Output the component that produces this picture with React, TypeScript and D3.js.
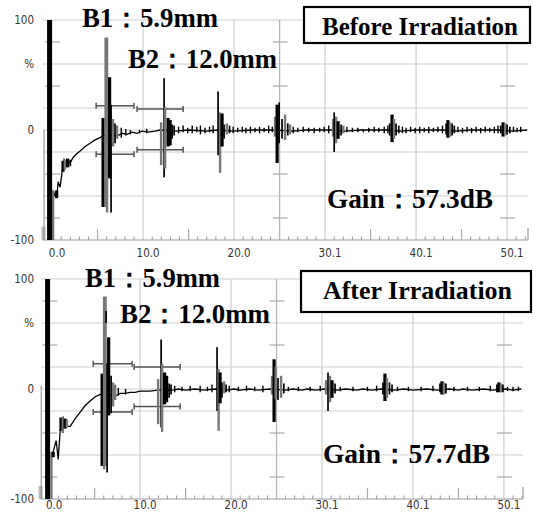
import React from "react";
import * as d3 from "d3";

// ---------- shared axis data ----------
const X_TICK_VALUES = [0, 10, 20, 30, 40, 50];
const X_TICK_LABELS = ["0.0", "10.0", "20.0", "30.1", "40.1", "50.1"];
const X_MID_TICKS = [5, 15, 35, 45];
const X_MARKER_LINES = [25];
const Y_LABEL_VALUES = [100, 60, 0, -100];
const Y_LABEL_TEXT = ["100", "%", "0", "-100"];
const Y_GRID = [100, 60, 20, 0, -20, -60];
const Y_SHORT_TICKS = [80, 40, -40, -80];

// ---------- BEFORE irradiation (top) ----------
// [mm, high %, low %, kind]  K = thick black, k = thin black, g = gray, G = light band
const beforeSpikes: [number, number, number, string][] = [
  [-0.95, -88, -100, "G"],
  [-0.88, 0, -100, "t"],
  [0.11, -55, -100, "g"],
  [0.5, -55, -62, "K"],
  [1.2, -28, -38, "K"],
  [1.4, -27, -36, "g"],
  [1.7, -26, -34, "K"],
  [2.0, -27, -33, "k"],
  [5.6, 11, -70, "K"],
  [5.88, 84, -70, "g"],
  [6.04, 84, -75, "g"],
  [6.32, 48, -44, "K"],
  [6.48, 23, -75, "k"],
  [6.7, 10, -15, "g"],
  [6.92, 6, -12, "k"],
  [7.14, 4, -8, "g"],
  [11.98, 7, -32, "g"],
  [12.31, 47, -43, "k"],
  [12.42, 21, -35, "g"],
  [12.75, 11, -15, "K"],
  [12.97, 9, -14, "K"],
  [13.19, 5, -8, "k"],
  [13.41, 4, -5, "k"],
  [18.24, 35, -23, "k"],
  [18.46, 16, -39, "g"],
  [18.68, 15, -15, "K"],
  [18.9, 5, -8, "k"],
  [19.2, 6, -4, "g"],
  [19.5, 4, -3, "k"],
  [24.5, 12, -6, "g"],
  [24.73, 23, -30, "K"],
  [24.95, 25, -12, "k"],
  [25.27, 10, -8, "k"],
  [25.6, 14, -9, "g"],
  [25.9, 6, -5, "k"],
  [26.15, 5, -4, "g"],
  [30.88, 10, -6, "g"],
  [31.0, 16, -20, "k"],
  [31.21, 12, -12, "g"],
  [31.43, 8, -8, "K"],
  [31.76, 5, -5, "k"],
  [32.0, 4, -3, "g"],
  [37.1, 6, -5, "k"],
  [37.36, 14, -11, "K"],
  [37.58, 10, -8, "g"],
  [37.8, 6, -5, "k"],
  [38.1, 4, -3, "k"],
  [43.3, 6, -4, "k"],
  [43.5, 9, -7, "K"],
  [43.74, 7, -6, "g"],
  [43.96, 6, -5, "k"],
  [44.2, 4, -3, "k"],
  [49.3, 4, -3, "k"],
  [49.56, 7, -6, "K"],
  [49.78, 6, -5, "g"],
  [50.0, 5, -4, "k"],
  [50.3, 3, -3, "k"],
];
// [mm, high %, low %]
const beforeNoise: [number, number, number][] = [
  [7.6, 2, -7], [8.1, 1, -5], [8.6, 0, -4], [9.6, 0, -3], [10.4, 1, -3],
  [13.9, 3, -3], [14.4, 4, -2], [14.9, 2, -3], [15.4, 4, -3], [15.9, 3, -2],
  [16.3, 4, -4], [16.8, 2, -3], [17.3, 3, -2], [17.7, 4, -3], [19.9, 3, -3],
  [20.4, 2, -2], [20.9, 3, -2], [21.3, 2, -3], [21.8, 3, -3], [22.3, 2, -2],
  [22.8, 3, -3], [23.3, 2, -2], [23.8, 4, -3], [24.2, 3, -2], [26.5, 3, -3],
  [27.0, 2, -2], [27.6, 3, -2], [28.2, 2, -2], [28.8, 2, -3], [29.4, 2, -2],
  [29.9, 3, -2], [30.4, 4, -3], [32.4, 3, -2], [33.0, 2, -2], [33.6, 2, -2],
  [34.2, 1, -2], [34.8, 2, -2], [35.4, 3, -2], [35.9, 2, -2], [36.5, 3, -3],
  [36.9, 4, -3], [38.5, 3, -3], [38.9, 2, -3], [39.4, 3, -2], [39.9, 2, -3],
  [40.4, 3, -3], [40.9, 2, -2], [41.4, 3, -3], [41.9, 2, -2], [42.4, 3, -2],
  [42.9, 4, -3], [44.6, 3, -2], [45.1, 2, -3], [45.6, 3, -2], [46.1, 2, -3],
  [46.6, 3, -2], [47.1, 2, -3], [47.6, 3, -2], [48.1, 2, -2], [48.6, 3, -3],
  [49.0, 4, -3], [50.7, 3, -2], [51.1, 2, -2], [51.5, 3, -2],
];
// [mm, %]
const beforeTrace: [number, number][] = [
  [0.11, -55], [0.33, -60], [0.55, -58], [0.66, -47], [0.88, -52], [1.1, -38],
  [1.32, -27], [1.54, -32], [1.76, -28], [1.98, -30], [2.31, -25], [2.64, -22],
  [3.08, -19], [3.63, -15], [4.18, -12], [4.73, -9], [5.27, -7], [5.6, -5],
  [7.25, -5], [7.69, -3], [8.24, -4], [8.79, -2], [9.34, -3], [9.89, -1],
  [10.55, -2], [11.32, -1], [11.87, 0], [13.6, -1], [15, 0], [17, -1],
  [18.2, 0], [19.8, -1], [22, 0], [24.4, 0], [26.3, -1], [28, 0], [30.8, 0],
  [32.2, -1], [34, 0], [37, 0], [38.3, -1], [40, 0], [43.2, 0], [44.4, -1],
  [46, 0], [49.2, 0], [50.6, -1], [52.2, 0],
];
// [from mm, to mm, level %]
const beforeGates: [number, number, number][] = [
  [4.84, 9.0, 22], [4.84, 9.0, -22],
  [9.34, 14.4, 19], [9.34, 14.4, -18],
];
const beforePulse: [number, number] = [-0.55, 0];

// ---------- AFTER irradiation (bottom) ----------
const afterSpikes: [number, number, number, string][] = [
  [-0.95, -88, -100, "G"],
  [-0.88, 3, -100, "t"],
  [0.25, -57, -100, "g"],
  [0.44, -57, -62, "K"],
  [1.3, -26, -38, "K"],
  [1.5, -26, -40, "g"],
  [1.75, -27, -36, "K"],
  [1.95, -28, -35, "g"],
  [5.82, 14, -70, "K"],
  [6.04, 84, -73, "g"],
  [6.2, 84, -70, "g"],
  [6.26, 71, 60, "k"],
  [6.37, 23, -76, "k"],
  [6.54, 47, -24, "K"],
  [6.81, 12, -22, "k"],
  [7.03, 6, -16, "g"],
  [7.25, 4, -10, "g"],
  [11.98, 9, -32, "g"],
  [12.31, 45, -35, "k"],
  [12.42, 23, -39, "g"],
  [12.69, 15, -14, "K"],
  [12.91, 12, -12, "K"],
  [13.19, 5, -8, "k"],
  [13.4, 4, -5, "k"],
  [18.46, 38, -20, "k"],
  [18.63, 18, -38, "g"],
  [18.79, 15, -13, "K"],
  [19.0, 6, -8, "k"],
  [19.23, 7, -4, "g"],
  [19.45, 4, -3, "k"],
  [24.5, 12, -5, "g"],
  [24.73, 27, -30, "K"],
  [24.9, 20, -9, "g"],
  [25.16, 10, -10, "k"],
  [25.5, 12, -8, "g"],
  [25.8, 5, -4, "k"],
  [30.44, 8, -5, "g"],
  [30.66, 15, -20, "k"],
  [30.88, 12, -12, "g"],
  [31.1, 8, -8, "K"],
  [31.43, 5, -4, "k"],
  [36.7, 6, -5, "k"],
  [36.92, 14, -11, "K"],
  [37.14, 10, -8, "g"],
  [37.42, 6, -5, "k"],
  [37.7, 4, -3, "k"],
  [42.97, 5, -3, "k"],
  [43.19, 7, -5, "K"],
  [43.4, 6, -5, "g"],
  [43.63, 5, -4, "k"],
  [49.23, 4, -3, "k"],
  [49.45, 6, -3, "K"],
  [49.67, 5, -3, "g"],
  [49.89, 4, -3, "k"],
];
const afterNoise: [number, number, number][] = [
  [7.6, 1, -6], [8.4, 0, -5], [13.8, 3, -3], [14.6, 2, -2], [15.5, 3, -2],
  [16.6, 3, -3], [17.4, 2, -2], [17.9, 4, -3], [19.8, 3, -3], [20.8, 2, -2],
  [21.7, 3, -2], [22.6, 2, -2], [23.5, 3, -3], [26.3, 2, -2], [27.4, 2, -2],
  [28.7, 2, -2], [29.8, 3, -2], [32.0, 2, -2], [33.4, 2, -2], [35.0, 2, -2],
  [36.0, 3, -2], [38.3, 2, -2], [39.5, 2, -2], [40.9, 2, -2], [42.2, 3, -2],
  [44.5, 2, -2], [46.0, 2, -2], [47.3, 2, -2], [48.5, 3, -2], [50.4, 2, -2],
  [51.0, 2, -2], [51.6, 2, -2],
];
const afterTrace: [number, number][] = [
  [0.44, -57], [0.77, -47], [0.99, -64], [1.21, -38], [1.54, -26], [1.98, -34],
  [2.31, -34], [2.86, -27], [3.41, -21], [3.96, -15], [4.51, -11], [5.05, -7],
  [5.6, -5], [5.82, -5], [7.36, -6], [7.8, -4], [8.35, -4], [8.9, -3],
  [9.45, -3], [10, -2], [11.1, -2], [11.87, -1], [13.6, -1], [14.2, 0],
  [15, -1], [16, 0], [17, -1], [18.3, 0], [19.6, -1], [20.3, 0], [21, -1],
  [22, 0], [23, -1], [24.3, 0], [26, -1], [26.8, 0], [27.8, -1], [28.4, 0],
  [29.3, -1], [30.3, 0], [31.7, -1], [32.6, 0], [33.8, -1], [34.5, 0],
  [35.5, -1], [36.5, 0], [38, -1], [39, 0], [40, -1], [41.5, 0], [42.7, -1],
  [44, 0], [45, -1], [45.5, 0], [46.5, -1], [47.8, 0], [48.8, -1], [50.2, 0],
  [51, -1], [51.9, 0],
];
const afterGates: [number, number, number][] = [
  [4.84, 9.12, 23], [4.84, 9.12, -21],
  [9.34, 14.4, 20], [9.34, 14.4, -16],
];
const afterPulse: [number, number] = [-0.45, 0.1];

const TITLES = ["Before Irradiation", "After Irradiation"];
const B1_TEXT = "B1：5.9mm";
const B2_TEXT = "B2：12.0mm";
const GAIN_TEXT = ["Gain：57.3dB", "Gain：57.7dB"];

const SPIKE_STYLE: Record<string, { c: string; w: number }> = {
  K: { c: "#000", w: 3.2 },
  k: { c: "#000", w: 1.7 },
  g: { c: "#777", w: 2.4 },
  G: { c: "#bbb", w: 4 },
  t: { c: "#888", w: 1 },
};

const SERIF = "'Liberation Serif', 'Times New Roman', serif";
const SANS = "'DejaVu Sans Condensed', 'Liberation Sans', sans-serif";

type Layout = {
  xDomain: [number, number];
  xRange: [number, number];
  yRange: [number, number];
  labelY: number;
  b1: { x: number; y: number; w: number };
  b2: { x: number; y: number; w: number };
  box: { x: number; y: number; w: number; h: number };
  title: { x: number; y: number; w: number };
  gain: { x: number; y: number; w: number };
};

const topLayout: Layout = {
  xDomain: [-1, 52.3],
  xRange: [43, 528],
  yRange: [240, 20],
  labelY: 257,
  b1: { x: 82, y: 27, w: 136 },
  b2: { x: 128, y: 68, w: 149 },
  box: { x: 304, y: 7, w: 226, h: 36 },
  title: { x: 322, y: 35, w: 196 },
  gain: { x: 327, y: 208, w: 166 },
};
const bottomLayout: Layout = {
  xDomain: [-0.9, 52.1],
  xRange: [41, 523],
  yRange: [499, 279],
  labelY: 509,
  b1: { x: 85, y: 287, w: 135 },
  b2: { x: 120, y: 323, w: 150 },
  box: { x: 301, y: 271, w: 230, h: 41 },
  title: { x: 323, y: 299, w: 189 },
  gain: { x: 323, y: 463, w: 167 },
};

function Panel({
  L, spikes, noise, trace, gates, pulse, title, gain,
}: {
  L: Layout;
  spikes: [number, number, number, string][];
  noise: [number, number, number][];
  trace: [number, number][];
  gates: [number, number, number][];
  pulse: [number, number];
  title: string;
  gain: string;
}) {
  const x = d3.scaleLinear().domain(L.xDomain).range(L.xRange);
  const y = d3.scaleLinear().domain([-100, 100]).range(L.yRange);
  const x0 = L.xRange[0];
  const x1 = L.xRange[1];
  const yb = y(-100);
  const minor = d3.range(1, 53).filter((v) => v % 5 !== 0 && v <= L.xDomain[1]);
  const line = d3.line<[number, number]>().x((d) => x(d[0])).y((d) => y(d[1]));
  return (
    <g>
      {/* horizontal grid */}
      {Y_GRID.map((v) => (
        <line key={"hg" + v} x1={x0} x2={x1} y1={y(v)} y2={y(v)} stroke="#cfcfcf" strokeWidth={1.2} />
      ))}
      {/* vertical grid */}
      {X_TICK_VALUES.filter((v) => v > 0).map((v) => (
        <line key={"vg" + v} x1={x(v)} x2={x(v)} y1={y(100)} y2={yb} stroke="#cfcfcf" strokeWidth={1.2} />
      ))}
      {X_MARKER_LINES.map((v) => (
        <line key={"vm" + v} x1={x(v)} x2={x(v)} y1={y(100)} y2={yb} stroke="#b5b5b5" strokeWidth={1.3} />
      ))}
      {/* y short ticks at 0, 25, 50 mm */}
      {[0, 25, 50].map((p) =>
        Y_SHORT_TICKS.map((v) => (
          <line key={"yt" + p + v} x1={x(p) - 7} x2={x(p) + 8} y1={y(v)} y2={y(v)} stroke="#aaa" strokeWidth={1.2} />
        ))
      )}
      {/* x axis */}
      <line x1={x0} x2={x1} y1={yb} y2={yb} stroke="#999" strokeWidth={1.2} />
      {minor.map((v) => (
        <line key={"mt" + v} x1={x(v)} x2={x(v)} y1={yb} y2={yb - 3.5} stroke="#999" strokeWidth={1} />
      ))}
      {X_MID_TICKS.map((v) => (
        <line key={"mdt" + v} x1={x(v)} x2={x(v)} y1={yb} y2={yb - 11} stroke="#aaa" strokeWidth={1.2} />
      ))}
      <line x1={x1} x2={x1} y1={yb} y2={yb - 12} stroke="#aaa" strokeWidth={1.4} />
      {/* tick labels */}
      {X_TICK_VALUES.map((v, i) => (
        <text key={"xl" + v} x={x(v) + 5} y={L.labelY} fontSize={11.5} fontFamily={SANS} fill="#333" textAnchor="middle">
          {X_TICK_LABELS[i]}
        </text>
      ))}
      {Y_LABEL_VALUES.map((v, i) => (
        <text key={"yl" + v} x={34} y={y(v) + 4} fontSize={11.5} fontFamily={SANS} fill="#333" textAnchor="end">
          {Y_LABEL_TEXT[i]}
        </text>
      ))}
      {/* gates */}
      {gates.map((g, i) => (
        <g key={"gt" + i} stroke="#555" strokeWidth={1.5}>
          <line x1={x(g[0])} x2={x(g[1])} y1={y(g[2])} y2={y(g[2])} />
          <line x1={x(g[0])} x2={x(g[0])} y1={y(g[2]) - 3} y2={y(g[2]) + 3} />
          <line x1={x(g[1])} x2={x(g[1])} y1={y(g[2]) - 3} y2={y(g[2]) + 3} />
        </g>
      ))}
      {/* noise */}
      {noise.map((n, i) => (
        <line key={"nz" + i} x1={x(n[0])} x2={x(n[0])} y1={y(n[1])} y2={y(n[2])} stroke="#000" strokeWidth={1.4} />
      ))}
      {/* trace */}
      <path d={line(trace) || ""} fill="none" stroke="#000" strokeWidth={1.3} />
      {/* spikes */}
      {spikes.map((s, i) => (
        <line key={"sp" + i} x1={x(s[0])} x2={x(s[0])} y1={y(s[1])} y2={y(s[2])}
          stroke={SPIKE_STYLE[s[3]].c} strokeWidth={SPIKE_STYLE[s[3]].w} />
      ))}
      {/* initial pulse */}
      <rect x={x(pulse[0])} y={y(100)} width={x(pulse[1]) - x(pulse[0])} height={yb - y(100)} fill="#000" />
      {/* annotations */}
      <text x={L.b1.x} y={L.b1.y} fontSize={27} fontWeight="bold" fontFamily={SERIF} textLength={L.b1.w} lengthAdjust="spacingAndGlyphs">{B1_TEXT}</text>
      <text x={L.b2.x} y={L.b2.y} fontSize={27} fontWeight="bold" fontFamily={SERIF} textLength={L.b2.w} lengthAdjust="spacingAndGlyphs">{B2_TEXT}</text>
      <text x={L.gain.x} y={L.gain.y} fontSize={27} fontWeight="bold" fontFamily={SERIF} textLength={L.gain.w} lengthAdjust="spacingAndGlyphs">{gain}</text>
      <rect x={L.box.x} y={L.box.y} width={L.box.w} height={L.box.h} fill="#fff" stroke="#000" strokeWidth={2.2} />
      <text x={L.title.x} y={L.title.y} fontSize={25} fontWeight="bold" fontFamily={SERIF} textLength={L.title.w} lengthAdjust="spacingAndGlyphs">{title}</text>
    </g>
  );
}

export default function App() {
  return (
    <svg width={533} height={517} viewBox="0 0 533 517"
      style={{ position: "absolute", left: 0, top: 0, background: "#fff" }}>
      <rect x={0} y={0} width={533} height={517} fill="#fff" />
      <Panel L={topLayout} spikes={beforeSpikes} noise={beforeNoise} trace={beforeTrace}
        gates={beforeGates} pulse={beforePulse} title={TITLES[0]} gain={GAIN_TEXT[0]} />
      <Panel L={bottomLayout} spikes={afterSpikes} noise={afterNoise} trace={afterTrace}
        gates={afterGates} pulse={afterPulse} title={TITLES[1]} gain={GAIN_TEXT[1]} />
    </svg>
  );
}
